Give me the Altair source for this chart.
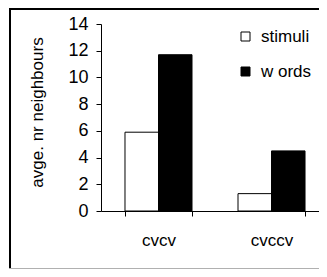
import altair as alt
import pandas as pd

categories = ["cvcv", "cvccv"]
series = ["stimuli", "w ords"]
stimuli = [5.9, 1.3]
words = [11.7, 4.5]
y_ticks = [0, 2, 4, 6, 8, 10, 12, 14]

rows = []
for i, c in enumerate(categories):
    rows.append({"cat": c, "series": series[0], "value": stimuli[i]})
    rows.append({"cat": c, "series": series[1], "value": words[i]})
df = pd.DataFrame(rows)

FONT = "Liberation Sans"

bars = alt.Chart(df).mark_bar(stroke="black", strokeWidth=1).encode(
    x=alt.X("cat:N", sort=categories,
            scale=alt.Scale(paddingInner=0.407, paddingOuter=0.168, align=0.632),
            axis=alt.Axis(title=None, labelAngle=0, tickBand="extent", grid=False,
                          tickSize=5, labelPadding=16, labelFontSize=17,
                          labelFont=FONT, labelColor="black",
                          domainColor="black", tickColor="black")),
    xOffset=alt.XOffset("series:N", sort=series, scale=alt.Scale(paddingInner=0)),
    y=alt.Y("value:Q", scale=alt.Scale(domain=[0, 14], nice=False),
            axis=alt.Axis(title="avge. nr neighbours", values=y_ticks,
                          tickSize=5, labelPadding=8, labelFontSize=18,
                          labelFont=FONT, labelColor="black", grid=False,
                          domainColor="black", tickColor="black",
                          titleFont=FONT, titleFontSize=17, titleFontWeight="normal",
                          titleColor="black", titleX=-64, titleY=88,
                          titleBaseline="middle", titleAlign="center")),
    fill=alt.Fill("series:N", sort=series,
                  scale=alt.Scale(domain=series, range=["white", "black"]),
                  legend=alt.Legend(title=None, orient="none", legendX=136, legendY=4,
                                    symbolType="square", symbolSize=81,
                                    symbolStrokeColor="black", symbolStrokeWidth=1,
                                    labelFont=FONT, labelFontSize=17, labelColor="black",
                                    labelOffset=7, rowPadding=17, padding=0)),
)

frame_df = pd.DataFrame({"k": [0]})
left_edge = alt.Chart(frame_df).mark_rule(color="black", strokeWidth=2).encode(
    x=alt.value(-91), y=alt.value(-16), y2=alt.value(245)
)
top_edge = alt.Chart(frame_df).mark_rule(color="black", strokeWidth=2).encode(
    x=alt.value(-92), x2=alt.value(218), y=alt.value(-15)
)
bottom = alt.Chart(frame_df).mark_rule(color="#b0b0b0", strokeWidth=1).encode(
    x=alt.value(-92), x2=alt.value(218), y=alt.value(244.5)
)

chart = alt.layer(left_edge, top_edge, bottom, bars).properties(
    width=218, height=187,
    autosize=alt.AutoSizeParams(type="none"),
    padding={"left": 93, "top": 16, "right": 0, "bottom": 58},
    background="white",
).configure_view(stroke=None)

chart.save("out.html", embed_options={"renderer": "svg", "actions": False})
